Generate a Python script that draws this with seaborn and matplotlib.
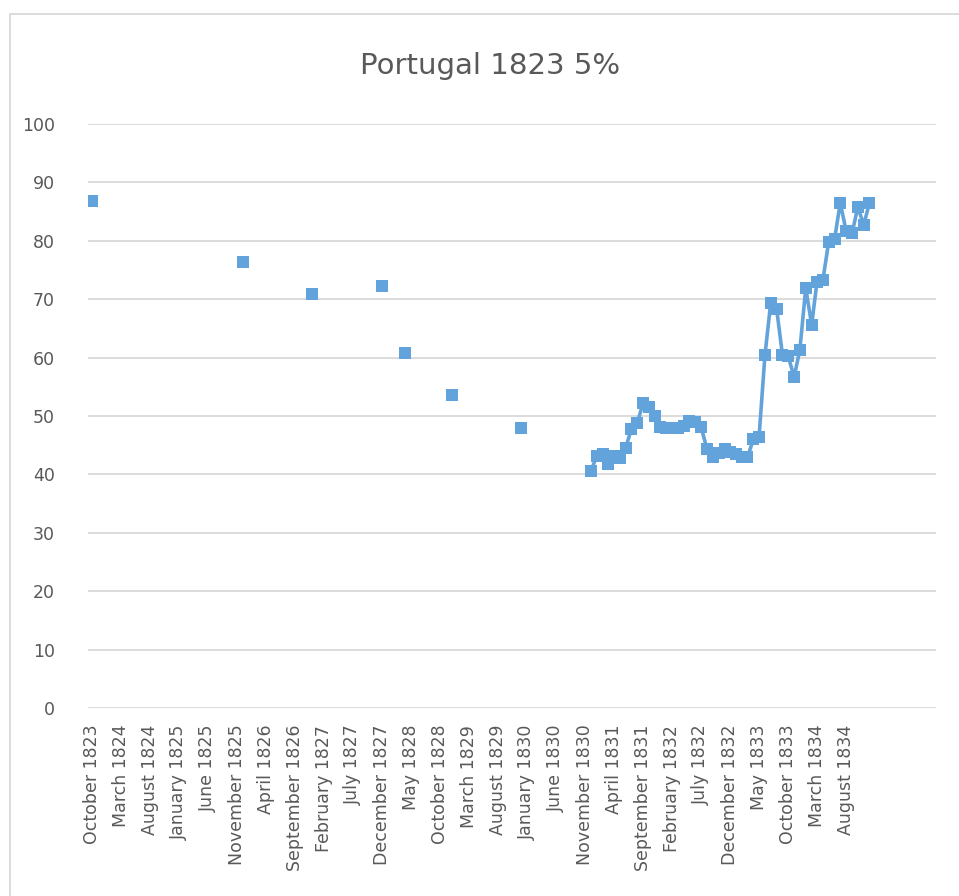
import pandas as pd
import matplotlib
matplotlib.use("Agg")
import matplotlib.pyplot as plt
import matplotlib.dates as mdates
from matplotlib.patches import Rectangle
import seaborn as sns

# scattered early quotes (month, price)
early_months = ["1823-10", "1825-12", "1826-12", "1827-12", "1828-04", "1828-12", "1829-12"]
early_values = [86.8, 76.4, 70.9, 72.3, 60.8, 53.6, 48.0]

# monthly quotes from December 1830 onwards
monthly_start = "1830-12"
monthly_values = [
    40.5, 43.2, 43.5, 41.7, 43.2, 42.8, 44.5, 47.7, 48.8, 52.2,
    51.5, 50.0, 48.2, 47.9, 47.9, 48.0, 48.3, 49.2, 48.9, 48.2,
    44.3, 43.0, 43.6, 44.3, 43.9, 43.5, 43.0, 42.9, 46.0, 46.4,
    60.4, 69.3, 68.4, 60.4, 60.2, 56.7, 61.3, 71.9, 65.6, 73.0,
    73.3, 79.8, 80.3, 86.5, 81.6, 81.3, 85.8, 82.7, 86.5,
]

title = "Portugal 1823 5%"
y_ticks = [0, 10, 20, 30, 40, 50, 60, 70, 80, 90, 100]
tick_first = "1823-10-01"
tick_last = "1834-08-01"

blue = "#62a3db"
grey_text = "#595959"
grid_col = "#d9d9d9"

# build the frame
dates = list(pd.to_datetime(early_months)) + list(
    pd.date_range(monthly_start, periods=len(monthly_values), freq="MS"))
df = pd.DataFrame({"date": dates, "value": early_values + monthly_values})
df = df.sort_values("date").reset_index(drop=True)
# months with no quote leave gaps in the line, so split into runs of consecutive months
month_idx = df["date"].dt.year * 12 + df["date"].dt.month
df["segment"] = (month_idx.diff() != 1).cumsum()

sns.set_style("white")
plt.rcParams["font.family"] = ["DejaVu Sans"]

fig = plt.figure(figsize=(9.59, 8.96), dpi=100)
ax = fig.add_axes([88 / 959, 1 - 708 / 896, (936 - 88) / 959, (708 - 124) / 896])

sns.lineplot(data=df, x="date", y="value", units="segment", estimator=None,
             color=blue, marker="s", markersize=9, markeredgewidth=0,
             linewidth=2.6, legend=False, ax=ax)

ax.set_ylim(0, 100)
ax.set_yticks(y_ticks)
ax.set_xlim(pd.Timestamp("1823-09-12"), pd.Timestamp("1835-11-15"))
ax.set_xticks(pd.date_range(tick_first, tick_last, freq="5MS"))
ax.xaxis.set_major_formatter(mdates.DateFormatter("%B %Y"))

ax.grid(axis="y", color=grid_col, linewidth=1.3)
ax.grid(axis="x", visible=False)
for s in ax.spines.values():
    s.set_visible(False)
ax.tick_params(axis="y", length=0, pad=24, labelsize=12.5, labelcolor=grey_text)
ax.tick_params(axis="x", length=0, pad=12, labelsize=12.5, labelcolor=grey_text,
               labelrotation=90)
ax.set_xlabel("")
ax.set_ylabel("")

fig.text(490 / 959, 1 - 66 / 896, title, ha="center", va="center",
         fontsize=21, color=grey_text)

# light chart-area border like the spreadsheet export
fig.patches.append(Rectangle((10 / 959, -0.02), 1.0, 1 - 14 / 896 + 0.02,
                             transform=fig.transFigure, fill=False,
                             edgecolor=grid_col, linewidth=1.3))

fig.savefig("out.png", dpi=100)
